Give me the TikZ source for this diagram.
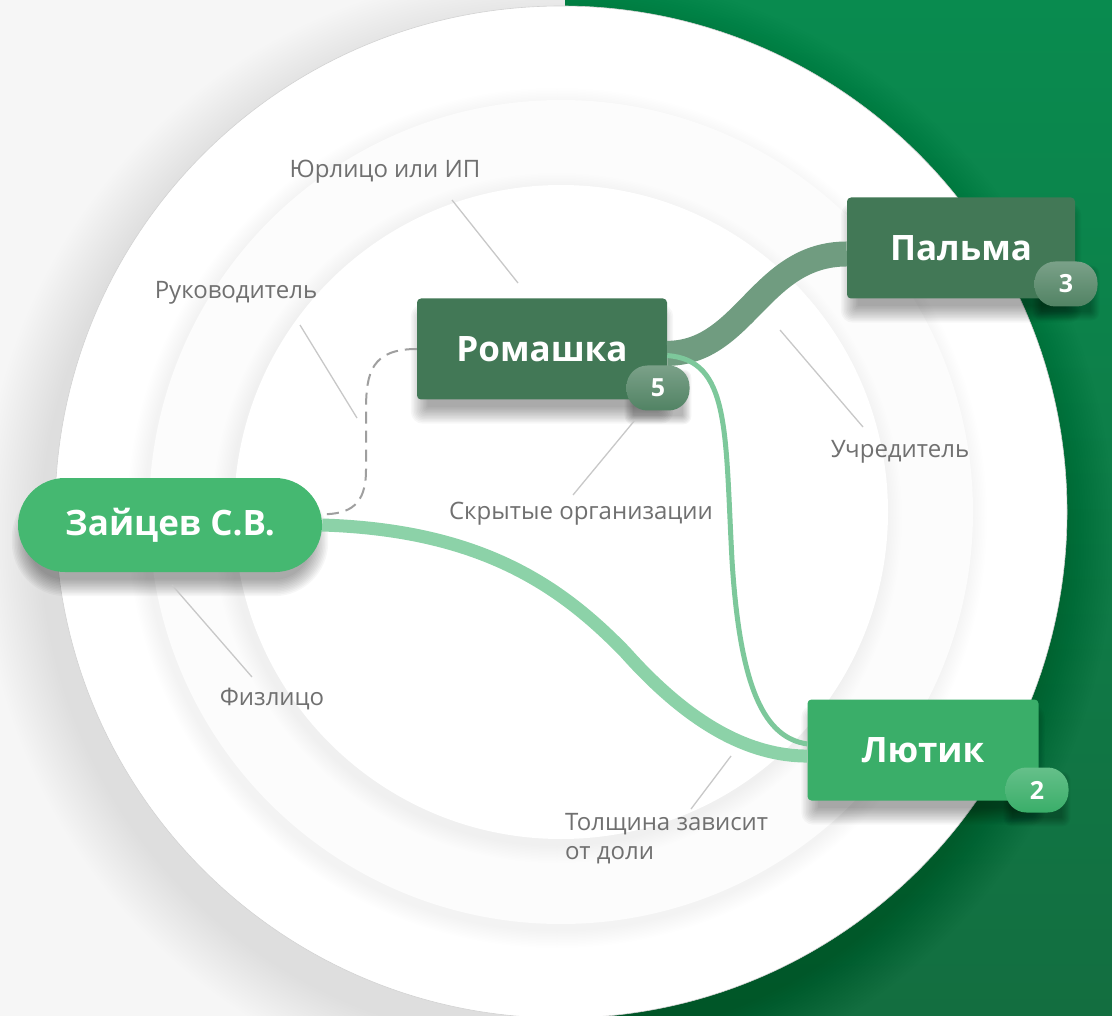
\documentclass[tikz,border=0pt]{standalone}
\usepackage{fontspec}
\setmainfont{Open Sans}
\definecolor{bgtop}{RGB}{9,139,79}
\definecolor{bgbot}{RGB}{19,110,64}
\definecolor{paper}{RGB}{246,246,246}
\definecolor{leafdark}{RGB}{66,120,86}
\definecolor{leafmid}{RGB}{58,174,105}
\definecolor{leafperson}{RGB}{69,184,113}
\definecolor{bandgray}{RGB}{112,156,128}
\definecolor{bandlight}{RGB}{140,210,168}
\definecolor{thinlight}{RGB}{125,200,155}
\definecolor{labelgray}{RGB}{112,112,112}
\definecolor{leadergray}{RGB}{200,200,200}
\newcommand{\rout}{506}
\newcommand{\rmid}{412}
\newcommand{\rin}{327}
\pgfdeclarelayer{bottom}
\pgfdeclarelayer{drop}
\pgfsetlayers{bottom,drop,main}

\begin{document}
\begin{tikzpicture}[x=1pt, y=-1pt,
    org/.style={rectangle, rounded corners=4pt, inner sep=0pt, text=white, minimum height=101pt,
        font=\bfseries\fontsize{35}{40}\selectfont},
    badge/.style={rectangle, rounded corners=21pt, inner sep=0pt, minimum width=63pt, minimum height=45pt,
        text=white, font=\bfseries\fontsize{25}{30}\selectfont},
    note/.style={text=labelgray, font=\fontsize{24}{29}\selectfont, inner sep=0pt},
    leader/.style={draw=leadergray, line width=1.3pt}]
    \useasboundingbox (0,0) rectangle (1112,1016);

    \begin{pgfonlayer}{bottom}
    % Background
    \fill[paper] (0,0) rectangle (565,1016);
    \shade[top color=bgtop, bottom color=bgbot] (565,0) rectangle (1112,1016);

    % Rings, each with a soft shadow to the lower left
    \foreach \k in {1,...,24}
        \fill[black, opacity=0.005] (548,536) circle[radius=\rout+2.5*\k];
    \fill[white, draw=gray!35, line width=0.6pt] (561,512) circle[radius=\rout];
    \foreach \k in {1,...,12}
        \fill[black, opacity=0.003] (557,518) circle[radius=\rmid+1.5*\k];
    \fill[gray!2] (561,512) circle[radius=\rmid];
    \foreach \k in {1,...,12}
        \fill[black, opacity=0.003] (557,518) circle[radius=\rin+1.5*\k];
    \fill[white] (561,512) circle[radius=\rin];
    \end{pgfonlayer}

    % Organisations and person
    \node[org, fill=leafdark, minimum width=250pt] (ro) at (542,349) {Ромашка};
    \node[org, fill=leafdark, minimum width=228pt] (pa) at (961,248) {Пальма};
    \node[org, fill=leafmid, minimum width=231pt] (lu) at (923,750) {Лютик};
    \node[org, fill=leafperson, minimum width=304pt, minimum height=94pt, rounded corners=47pt] (za) at (170,525) {Зайцев С.В.};

    % Links
    \draw[bandgray, line width=25pt] (ro.-2) .. controls (745,353) and (760,254) .. (pa.183);
    \draw[bandlight, line width=13pt] (za.east) .. controls (480,530) and (560,585) .. (625,652)
        .. controls (690,725) and (750,756) .. (lu.183);
    \draw[thinlight, line width=5pt] (ro.-3) .. controls (730,360) and (725,430) .. (732,560)
        .. controls (740,690) and (765,738) .. (lu.177);
    \draw[gray!75, line width=2pt, dash pattern=on 12pt off 7pt] (ro.west) .. controls (372,349) and (366,372) .. (366,410)
        -- (366,470) .. controls (366,505) and (350,514) .. (za.4);

    % Badges
    \node[badge, top color=leafdark!70!white, bottom color=leafdark!92!white] (b-ro) at (658,388) {5};
    \node[badge, top color=leafdark!70!white, bottom color=leafdark!92!white] (b-pa) at (1066,284) {3};
    \node[badge, top color=leafmid!78!white, bottom color=leafmid] (b-lu) at (1037,790) {2};

    % Drop shadows
    \begin{pgfonlayer}{drop}
    \foreach \n in {ro,pa,lu}
        \foreach \k [evaluate=\k as \rc using 4+1.5*\k] in {1,...,12}
            \fill[black, opacity=0.03, rounded corners=\rc pt]
                ([shift={(12-1.5*\k,24-1.5*\k)}]\n.north west) rectangle ([shift={(-12+1.5*\k,6+1.5*\k)}]\n.south east);
    \foreach \k [evaluate=\k as \rc using 36+1.5*\k] in {1,...,12}
        \fill[black, opacity=0.03, rounded corners=\rc pt]
            ([shift={(12-1.5*\k,24-1.5*\k)}]za.north west) rectangle ([shift={(-12+1.5*\k,6+1.5*\k)}]za.south east);
    \foreach \n in {b-ro,b-pa,b-lu}
        \foreach \k [evaluate=\k as \rc using 16+1.2*\k] in {1,...,8}
            \fill[black, opacity=0.04, rounded corners=\rc pt]
                ([shift={(8-1.2*\k,14-1.2*\k)}]\n.north west) rectangle ([shift={(-8+1.2*\k,4+1.2*\k)}]\n.south east);
    \end{pgfonlayer}

    % Notes
    \node[note] (n-yur) at (385,172) {Юрлицо или ИП};
    \node[note] (n-ruk) at (236,293) {Руководитель};
    \node[note] (n-skr) at (581,514) {Скрытые организации};
    \node[note] (n-uch) at (900,452) {Учредитель};
    \node[note] (n-fiz) at (272,699) {Физлицо};
    \node[note, anchor=north west, align=left] (n-tol) at (565,813) {Толщина зависит\\от доли};

    \coordinate (yur-a) at (452,200); \coordinate (yur-b) at (518,283);
    \coordinate (ruk-a) at (300,325); \coordinate (ruk-b) at (357,418);
    \coordinate (skr-a) at (573,495); \coordinate (skr-b) at (635,420);
    \coordinate (uch-a) at (780,330); \coordinate (uch-b) at (863,427);
    \coordinate (fiz-a) at (172,585); \coordinate (fiz-b) at (252,677);
    \coordinate (tol-a) at (691,809); \coordinate (tol-b) at (731,756);
    \draw[leader] (yur-a) -- (yur-b);
    \draw[leader] (ruk-a) -- (ruk-b);
    \draw[leader] (skr-a) -- (skr-b);
    \draw[leader] (uch-a) -- (uch-b);
    \draw[leader] (fiz-a) -- (fiz-b);
    \draw[leader] (tol-a) -- (tol-b);

\end{tikzpicture}
\end{document}
